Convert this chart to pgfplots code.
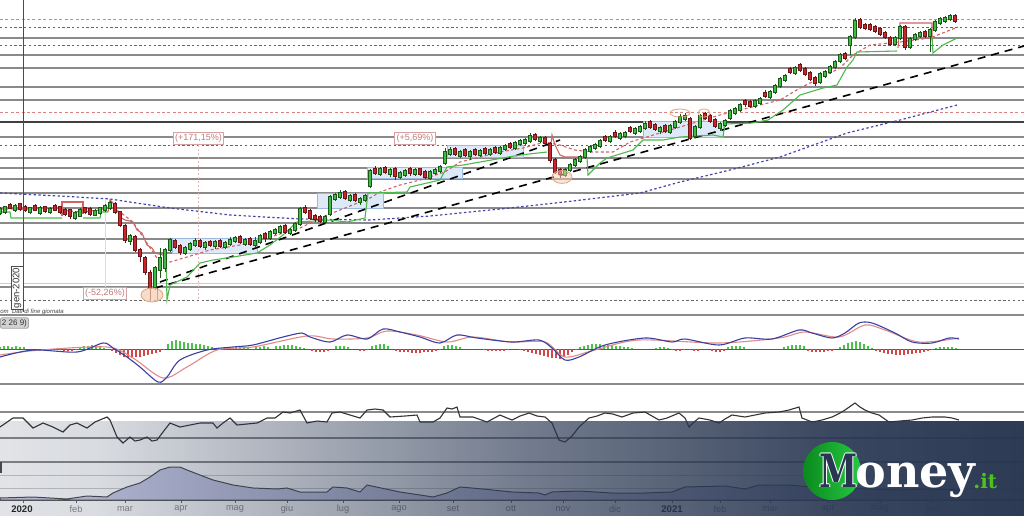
\documentclass[border=0pt]{standalone}
\usepackage{fontspec}
\setmainfont{Liberation Sans}
\newfontfamily\logofont{DejaVu Serif}
\usepackage{pgfplots}
\pgfplotsset{compat=1.18}
\usepackage{pgfplotstable}
\usetikzlibrary{fadings}

\definecolor{gridgray}{HTML}{8A8A8A}
\definecolor{cgreen}{HTML}{3DBE3D}
\definecolor{cred}{HTML}{C8262C}
\definecolor{stepgreen}{HTML}{4DB84D}
\definecolor{stepred}{HTML}{D06464}
\definecolor{mablue}{HTML}{4545A8}
\definecolor{boxblue}{HTML}{DDE9F8}
\definecolor{boxedge}{HTML}{9DB9DE}
\definecolor{navy}{HTML}{283651}
\definecolor{logoA}{HTML}{0A8A1E}
\definecolor{logoB}{HTML}{27C842}
\definecolor{itgreen}{HTML}{4EC21C}
\definecolor{labgray}{HTML}{8A8A8A}
\definecolor{volfill}{HTML}{C9CBE7}
\definecolor{macdblue}{HTML}{3A3FA0}
\definecolor{macdsig}{HTML}{E08A8A}
\definecolor{histg}{HTML}{4CC24C}
\definecolor{histr}{HTML}{D24848}
\definecolor{annot}{HTML}{C27A7A}
\definecolor{ellfill}{HTML}{F3CDB4}
\definecolor{elledge}{HTML}{E2A27C}

\pgfplotsset{
  panel/.style={width=512pt, height=258pt, scale only axis, xmin=0, xmax=1024,
    axis lines=none},
  candle/.style={draw=none, no markers, restrict expr to domain={\thisrow{d}}{#1}},
}
\tikzset{
  hlevel/.style={draw=gridgray, line width=0.6pt},
  dotlevel/.style={draw=gray!80!black, line width=0.5pt, dash pattern=on 1.2pt off 1.2pt},
  redlevel/.style={draw=stepred!80, line width=0.5pt, dash pattern=on 1.5pt off 1.2pt},
  mlab/.style={font=\fontsize{4.6}{5}\selectfont, text=labgray},
  logoM/.style={font=\logofont\bfseries\fontsize{23}{23}\selectfont, xscale=0.75, anchor=base, inner sep=0pt},
}

% candles in chart pixels (smaller = higher price):
% x, close c, d = open - close (d > 0: rising candle), upper wick u, lower wick v
\pgfplotstableread{
x c d u v
0 209 4 2 2
5 207 5 1 2
10 208 -3 2 1
15 206 4 2 2
20 209 -5 1 2
25 210 -3 2 2
30 208 4 1 2
35 210 -4 2 1
40 208 5 2 2
45 211 -4 1 2
50 209 3 2 2
55 210 -4 2 1
60 212 -5 1 2
65 214 -4 2 2
70 216 -6 1 3
75 213 5 2 2
80 210 6 2 1
85 212 -4 1 2
90 214 -5 2 2
95 211 4 2 1
100 208 5 1 2
105 206 4 2 2
110 203 5 2 2
115 212 -8 2 2
120 225 -13 1 2
125 240 -14 2 3
130 236 5 2 4
135 250 -13 2 2
140 256 -6 2 6
145 272 -14 2 3
150 288 -15 3 12
155 268 19 2 3
160 258 12 10 8
165 250 18 2 4
170 240 10 2 2
175 247 -6 2 2
180 252 -6 2 3
185 248 5 2 2
190 244 5 2 2
195 241 4 3 2
200 246 -5 2 2
205 243 4 2 3
210 245 -3 2 2
215 242 4 2 3
220 246 -5 2 2
225 243 4 2 2
230 240 4 3 2
235 238 3 2 2
240 242 -5 2 2
245 240 4 2 2
250 244 -5 2 2
255 241 4 4 2
260 236 6 2 2
265 238 -4 2 4
270 232 6 2 2
275 230 3 2 2
280 227 5 2 2
285 232 -6 2 2
290 230 3 2 2
295 224 6 2 2
300 209 15 2 2
305 212 -4 3 2
310 218 -7 2 2
315 219 -3 2 3
320 221 -4 2 2
325 217 5 2 2
330 197 17 2 2
335 195 4 2 2
340 193 4 3 2
345 198 -6 2 2
350 196 4 2 2
355 200 -5 2 2
360 199 3 2 3
365 196 4 2 2
370 171 15 2 2
375 173 -4 3 2
380 169 5 2 2
385 172 -4 2 2
390 170 4 2 3
395 176 -7 2 4
400 173 4 2 2
405 171 4 2 2
410 173 -4 2 3
415 170 4 2 2
420 174 -5 1 2
425 177 -5 2 2
430 172 6 2 2
435 170 3 2 2
440 167 4 2 2
445 152 11 4 2
450 150 4 3 2
455 154 -5 2 2
460 152 4 2 2
465 155 -5 2 2
470 152 4 2 4
475 154 -4 2 2
480 151 4 2 2
485 153 -4 2 2
490 150 4 2 2
495 152 -4 2 2
500 148 5 2 2
505 146 3 2 2
510 147 -3 2 2
515 143 5 2 2
520 141 3 2 2
525 140 3 2 2
530 136 5 3 2
535 139 -4 2 2
540 138 3 2 2
545 143 -5 2 2
550 160 -16 2 3
555 172 -12 2 2
560 174 -4 2 4
565 170 5 2 2
570 165 5 2 2
575 160 5 2 2
580 157 4 2 2
585 150 7 2 2
590 147 4 2 2
595 145 3 2 2
600 141 5 2 2
605 140 -3 2 2
610 137 4 2 2
615 136 -3 3 2
620 134 4 2 2
625 133 3 2 2
630 131 -3 2 2
635 129 4 2 2
640 127 4 2 2
645 124 4 3 2
650 127 -5 2 2
655 129 -4 2 2
660 128 3 2 3
665 131 -5 2 2
670 126 6 2 2
675 122 5 2 2
680 117 5 3 2
685 116 3 3 2
690 138 -19 2 2
695 127 9 2 2
700 116 11 2 2
705 118 -4 2 2
710 121 -5 2 2
715 126 -6 2 2
720 124 4 2 3
725 121 4 2 2
730 111 7 2 2
735 109 4 2 2
740 105 5 2 2
745 104 -3 2 3
750 106 -4 2 2
755 101 5 2 2
760 99 4 2 2
765 96 -3 3 2
770 92 5 2 2
775 86 6 2 2
780 79 7 2 2
785 76 4 2 2
790 72 -3 2 2
795 68 5 2 2
800 70 -5 2 2
805 74 -5 2 2
810 79 -6 2 2
815 83 -5 2 3
820 74 8 2 2
825 72 4 2 2
830 67 5 2 2
835 62 5 2 2
840 55 6 2 2
845 58 -4 2 2
850 37 8 2 10
855 21 16 3 2
860 27 -7 2 2
865 28 -3 2 2
870 29 -4 2 2
875 31 -4 2 2
880 34 -5 2 2
885 37 -4 2 2
890 44 -6 2 2
895 38 6 2 2
900 27 11 2 2
905 47 -20 2 3
910 39 8 2 2
915 35 4 2 2
920 33 3 2 2
925 36 -4 2 2
930 30 6 2 16
935 22 8 2 2
940 19 4 2 2
945 18 3 2 2
950 16 3 2 2
955 21 -5 2 2
}\candles

\begin{document}%
\begin{tikzfadingfrompicture}[name=wmfade]%
  \shade[left color=transparent!100, right color=transparent!99] (-50bp,-50bp) rectangle (-40bp,50bp);%
  \shade[left color=transparent!99, right color=transparent!82] (-40bp,-50bp) rectangle (-20bp,50bp);%
  \shade[left color=transparent!82, right color=transparent!36] (-20bp,-50bp) rectangle (0bp,50bp);%
  \shade[left color=transparent!36, right color=transparent!8] (0bp,-50bp) rectangle (16bp,50bp);%
  \shade[left color=transparent!8, right color=transparent!0] (16bp,-50bp) rectangle (28bp,50bp);%
  \fill[transparent!0] (28bp,-50bp) rectangle (50bp,50bp);%
\end{tikzfadingfrompicture}%
\begin{tikzpicture}
% ---------- main panel, oscillator, axis labels ----------
\begin{axis}[panel, ymin=0, ymax=516, y dir=reverse]
\pgfplotsinvokeforeach{38,55,68,87,100,137,158,168,179,193,208,223,239,253,287,315,384,412,438,462}{
  \draw[hlevel] (0,#1) -- (1024,#1);}
\pgfplotsinvokeforeach{27,45,145,300}{\draw[dotlevel] (0,#1) -- (1024,#1);}
\pgfplotsinvokeforeach{19,112}{\draw[redlevel] (0,#1) -- (1024,#1);}
\draw[gray!40, line width=0.4pt] (0,283) -- (1024,283);
\draw[gray!40, line width=0.4pt] (0,475) -- (1024,475);
\draw[gray!40, line width=0.4pt] (0,488) -- (1024,488);
\draw[black!75, line width=1.1pt] (0,122) -- (1024,122);
\draw[gray!70!black, line width=0.5pt] (0,349) -- (1024,349);
\draw[gray!80!black, line width=0.6pt] (0,500) -- (1024,500);

% consolidation boxes
\filldraw[fill=boxblue, draw=boxedge, line width=0.4pt] (172,238) rectangle (257,253);
\filldraw[fill=boxblue, draw=boxedge, line width=0.4pt] (317,193) rectangle (383,208);
\filldraw[fill=boxblue, draw=boxedge, line width=0.4pt] (367,167) rectangle (462,178);
\filldraw[fill=boxblue, draw=boxedge, line width=0.4pt] (447,145) rectangle (523,157);
\filldraw[fill=boxblue, draw=boxedge, line width=0.4pt] (643,121) rectangle (723,137);

% measurement guides
\draw[stepred!30, line width=0.4pt] (105,200) -- (105,293);
\draw[stepred!45, line width=0.4pt, dash pattern=on 1pt off 1pt] (198,145) -- (198,300);
\draw[black!70, line width=0.4pt] (157,288) -- (157,301);

% long moving average
\addplot[mablue, line width=0.6pt, dash pattern=on 1.2pt off 1.2pt] coordinates {
(0,193)(60,196)(110,199)(170,208)(230,215)(300,219)(370,220)(430,216)(510,208)
(573,201)(640,193)(680,182)(730,170)(780,157)(847,133)(900,120)(957,105)};

% trend lines
\addplot[black, line width=0.8pt, dash pattern=on 4pt off 3pt] coordinates {(155,288) (1024,46)};
\addplot[black, line width=0.8pt, dash pattern=on 4pt off 3pt] coordinates {(160,282) (560,140)};

% short moving average
\addplot[stepred, line width=0.55pt, dash pattern=on 1.5pt off 1.2pt] coordinates {
(0,209)(30,209)(60,210)(80,212)(100,210)(110,207)(120,212)(133,222)(145,240)(157,258)
(170,262)(187,257)(210,250)(240,245)(270,237)(300,228)(320,218)(340,210)(370,198)
(380,192)(400,185)(420,180)(445,172)(460,162)(500,152)(523,148)(545,142)(560,145)
(575,150)(590,152)(613,152)(630,142)(680,127)(720,115)(760,105)(780,100)(800,88)
(820,78)(840,68)(853,55)(870,45)(900,42)(930,38)(958,27)};

% trailing stops
\addplot[stepred, line width=0.55pt] coordinates {(62,216)(62,202)(83,202)(83,214)};
\addplot[stepred, line width=0.55pt] coordinates {(108,212)(110,200)(113,203)(115,207)(118,212)
(120,217)(125,220)(130,221)(133,222)(137,230)(142,233)(147,245)(152,248)(155,253)(163,255)(166,255)};
\addplot[stepred, line width=0.55pt] coordinates {(548,150)(550,153)(552,135)(555,145)(560,155)(565,157)(587,157)};
\addplot[stepred, line width=0.55pt] coordinates {(898,48)(900,23)(932,23)(932,40)};
\addplot[stepgreen, line width=0.55pt] coordinates {(0,212)(10,212)(11,218)(62,218)};
\addplot[stepgreen, line width=0.55pt] coordinates {(83,218)(100,218)(101,212)(108,212)};
\addplot[stepgreen, line width=0.55pt] coordinates {(166,255)(167,300)(170,285)(187,277)(200,263)
(213,260)(233,257)(257,253)(270,245)(283,235)(297,222)(330,220)(347,222)(365,218)(368,193)
(407,192)(410,187)(440,180)(447,167)(463,165)(520,155)(547,152)};
\addplot[stepgreen, line width=0.55pt] coordinates {(587,157)(588,175)(600,163)(607,158)(633,150)
(638,145)(643,140)(663,140)(680,137)(713,135)(723,137)(725,124)(752,123)(768,120)(783,110)
(800,95)(823,88)(837,85)(847,67)(853,60)(857,52)(897,51)};
\addplot[stepgreen, line width=0.55pt] coordinates {(932,37)(933,53)(943,45)(957,38)};

% candles: wicks, body outlines, bodies
\addplot[candle={0.5:1000}, error bars/.cd, y dir=plus, y explicit, error mark=none,
  error bar style={line width=0.45pt, draw=cgreen!45!black}]
  table[x=x, y expr={\thisrow{c}+min(0,\thisrow{d})-\thisrow{u}},
    y error expr={abs(\thisrow{d})+\thisrow{u}+\thisrow{v}}] {\candles};
\addplot[candle={-1000:0.49}, error bars/.cd, y dir=plus, y explicit, error mark=none,
  error bar style={line width=0.45pt, draw=cred!55!black}]
  table[x=x, y expr={\thisrow{c}+min(0,\thisrow{d})-\thisrow{u}},
    y error expr={abs(\thisrow{d})+\thisrow{u}+\thisrow{v}}] {\candles};
\addplot[candle={0.5:1000}, error bars/.cd, y dir=plus, y explicit, error mark=none,
  error bar style={line width=2.1pt, draw=cgreen!45!black}]
  table[x=x, y expr={\thisrow{c}+min(0,\thisrow{d})-0.6}, y error expr={abs(\thisrow{d})+1.2}] {\candles};
\addplot[candle={-1000:0.49}, error bars/.cd, y dir=plus, y explicit, error mark=none,
  error bar style={line width=2.1pt, draw=cred!55!black}]
  table[x=x, y expr={\thisrow{c}+min(0,\thisrow{d})-0.6}, y error expr={abs(\thisrow{d})+1.2}] {\candles};
\addplot[candle={0.5:1000}, error bars/.cd, y dir=plus, y explicit, error mark=none,
  error bar style={line width=1.4pt, draw=cgreen}]
  table[x=x, y expr={\thisrow{c}+min(0,\thisrow{d})}, y error expr={abs(\thisrow{d})}] {\candles};
\addplot[candle={-1000:0.49}, error bars/.cd, y dir=plus, y explicit, error mark=none,
  error bar style={line width=1.4pt, draw=cred}]
  table[x=x, y expr={\thisrow{c}+min(0,\thisrow{d})}, y error expr={abs(\thisrow{d})}] {\candles};

% highlighted turning points
\filldraw[fill=ellfill, fill opacity=0.7, draw=elledge, line width=0.4pt] (152,295) ellipse [x radius=5.5pt, y radius=3.5pt];
\filldraw[fill=ellfill, fill opacity=0.5, draw=elledge, line width=0.4pt] (562,177) ellipse [x radius=5pt, y radius=3.2pt];
\draw[elledge, line width=0.4pt] (680,113) ellipse [x radius=5pt, y radius=2pt];
\draw[elledge, line width=0.4pt] (704,113) ellipse [x radius=3pt, y radius=2pt];

% percentage labels
\node[draw=annot!70, fill=white, text=annot, font=\fontsize{4.5}{5}\selectfont, inner sep=1pt] at (105,293.5) {(-52,26\%)};
\node[draw=annot!70, fill=white, text=annot, font=\fontsize{4.5}{5}\selectfont, inner sep=1pt] at (198.5,138.5) {(+171,15\%)};
\node[draw=annot!70, fill=white, text=annot, font=\fontsize{4.5}{5}\selectfont, inner sep=1pt] at (415,138.5) {(+5,69\%)};

% cursor and info texts
\draw[black!70, line width=0.5pt] (23,0) -- (23,312);
\node[draw=black!70, fill=white, rotate=90, font=\fontsize{4.8}{5}\selectfont, inner sep=0.8pt, text=black!80] at (17,288) {gen-2020};
\node[anchor=west, font=\fontsize{3}{3.5}\selectfont\itshape, text=black!75, inner sep=0pt] at (0,312) {om\ \ Dati di fine giornata};
\node[anchor=west, fill=gray!35, draw=gray!70, rounded corners=1pt, font=\fontsize{4}{4.5}\selectfont, inner sep=0.8pt, text=black!80] at (0,323) {2 26 9)};
\draw[black!70, line width=0.6pt] (1,462) -- (1,473);

% oscillator
\addplot[black!80, line width=0.55pt] coordinates {
(0,427)(13,418)(23,418)(33,428)(43,423)(53,427)(63,432)(70,425)(77,423)(87,428)(95,422)
(107,417)(110,420)(117,437)(123,443)(130,437)(135,441)(140,440)(147,437)(152,441)(157,440)
(163,432)(170,423)(175,425)(180,427)(190,425)(200,423)(213,423)(217,428)(223,423)(230,418)
(237,425)(247,424)(257,423)(267,418)(275,418)(283,412)(290,413)(300,410)(307,423)(317,421)
(327,422)(332,413)(340,412)(350,415)(360,418)(367,410)(375,409)(383,410)(390,417)(405,416)
(417,415)(420,422)(433,422)(440,418)(447,408)(452,409)(457,407)(460,417)(473,417)(487,422)
(500,415)(507,418)(512,420)(520,416)(529,413)(537,416)(545,417)(552,423)(559,440)(565,442)
(572,436)(579,427)(589,418)(597,416)(605,413)(613,414)(622,417)(633,413)(645,412)(652,416)
(659,420)(667,418)(679,413)(685,418)(689,427)(694,422)(699,418)(710,420)(719,423)(725,419)
(732,415)(745,417)(755,415)(765,413)(779,412)(789,410)(799,407)(802,418)(812,422)(822,420)
(832,417)(840,413)(845,410)(855,403)(860,407)(865,410)(872,413)(879,415)(889,422)(900,421)
(912,420)(922,418)(932,417)(945,417)(952,418)(959,420)};

% time axis
\pgfplotsinvokeforeach{23,76,125,181,235,287,343,399,453,511,563,615,672,720,770,828,880,932}{
  \draw[gray!80!black, line width=0.4pt] (#1,500) -- (#1,503);}
\node[font=\fontsize{4.8}{5}\selectfont\bfseries, text=black!85] at (22,509) {2020};
\node[mlab] at (76,509) {feb};
\node[mlab] at (125,509) {mar};
\node[mlab] at (181,509) {apr};
\node[mlab] at (235,509) {mag};
\node[mlab] at (287,509) {giu};
\node[mlab] at (343,509) {lug};
\node[mlab] at (399,509) {ago};
\node[mlab] at (453,509) {set};
\node[mlab] at (511,509) {ott};
\node[mlab] at (563,509) {nov};
\node[mlab] at (615,509) {dic};
\node[font=\fontsize{4.8}{5}\selectfont\bfseries, text=black!85] at (672,509) {2021};
\node[mlab] at (720,509) {feb};
\node[mlab] at (770,509) {mar};
\node[mlab] at (828,509) {apr};
\node[mlab] at (880,509) {mag};
\node[mlab] at (932,509) {giu};
\end{axis}

% ---------- MACD (12 26 9) ----------
\begin{axis}[panel, ymin=-167, ymax=349]
\addplot[ycomb, histg, line width=0.9pt, mark=none] coordinates {
(0,2)(4,3)(8,3)(12,2)(16,3)(20,2)(24,2)
(80,2)(84,3)(88,3)(92,4)(96,3)(100,2)(104,1)
(168,5)(172,8)(176,9)(180,8)(184,7)(188,6)(192,6)(196,5)(200,5)(204,4)(208,3)(212,2)
(232,1)(236,2)(240,2)(244,2)(248,1)(256,2)(260,2)(264,3)(268,2)(276,3)(280,3)(284,4)(288,4)(292,4)(296,3)(300,2)(304,1)
(336,3)(340,3)(344,3)(348,2)
(372,3)(376,4)(380,5)(384,5)(388,3)
(444,3)(448,4)(452,4)(456,3)(460,2)
(580,2)(584,3)(588,4)(592,5)(596,5)(600,5)(604,4)(608,4)(612,4)(616,3)(620,3)(624,2)(628,2)(632,1)
(656,1)(660,2)(664,2)(668,1)
(728,2)(732,3)(736,3)(740,3)(744,2)
(784,2)(788,3)(792,4)(796,4)(800,4)(804,3)
(840,2)(844,4)(848,6)(852,7)(856,8)(860,7)(864,5)(868,3)(872,1)
(936,1)(940,2)(944,2)(948,2)(952,2)(956,1)};
\addplot[ycomb, histr, line width=0.9pt, mark=none] coordinates {
(60,-1)(64,-2)(68,-2)(72,-2)(76,-1)
(112,-2)(116,-4)(120,-6)(124,-8)(128,-9)(132,-9)(136,-8)(140,-8)(144,-7)(148,-6)(152,-5)(156,-4)(160,-3)(164,-1)
(312,-2)(316,-3)(320,-3)(324,-3)(328,-2)
(360,-2)(364,-2)(368,-1)
(396,-2)(400,-3)(404,-3)(408,-3)(412,-4)(416,-4)(420,-4)(424,-3)(428,-3)(432,-3)(436,-2)(440,-1)
(484,-1)(488,-2)(492,-2)(496,-2)(500,-2)(504,-2)(508,-1)
(520,-1)(524,-2)(528,-3)(532,-4)(536,-5)(540,-6)(544,-7)(548,-8)(552,-9)(556,-9)(560,-10)(564,-8)(568,-6)(572,-3)(576,-1)
(672,-1)(676,-2)(680,-2)(684,-1)
(690,-1)(694,-2)(698,-2)
(712,-2)(716,-3)(720,-3)(724,-2)
(808,-2)(812,-3)(816,-3)(820,-3)(824,-3)(828,-2)(832,-2)
(876,-2)(880,-3)(884,-4)(888,-5)(892,-5)(896,-6)(900,-6)(904,-6)(908,-5)(912,-5)(916,-4)(920,-4)(924,-3)(928,-2)(932,-1)};
\addplot[macdsig, line width=0.55pt, smooth] coordinates {
(0,-6)(40,-1)(107,2)(133,-9)(163,-29)(187,-18)(217,-1)(253,2)(307,13)(333,10)(367,11)
(387,18)(417,14)(447,7)(473,12)(510,7)(545,7)(565,-8)(595,-1)(639,9)(719,6)(779,11)
(805,17)(839,12)(865,24)(885,19)(919,7)(959,11)};
\addplot[macdblue, line width=0.55pt, smooth] coordinates {
(0,-8)(33,-1)(77,-3)(103,6)(113,1)(127,-8)(140,-18)(158,-33)(167,-28)(180,-11)(207,-1)
(233,2)(253,4)(283,12)(302,16)(310,12)(330,7)(347,14)(367,10)(383,20)(400,17)(420,12)
(440,6)(457,14)(477,11)(512,7)(539,9)(552,1)(565,-11)(579,-8)(605,4)(645,11)(672,7)
(685,10)(719,4)(745,11)(772,10)(799,19)(812,16)(832,11)(845,16)(859,26)(872,26)(895,16)
(912,7)(932,6)(949,11)(959,10)};
\end{axis}

% ---------- lower indicator area ----------
\begin{axis}[panel, ymin=-16, ymax=500]
\addplot[draw=black!70, fill=volfill, line width=0.5pt] coordinates {
(0,2)(33,3)(67,1)(87,4)(107,3)(113,7)(127,13)(140,17)(150,23)(160,30)(170,33)(180,33)
(187,30)(200,25)(213,20)(233,15)(253,12)(277,11)(287,12)(300,8)(327,8)(333,13)(347,12)
(360,8)(367,15)(400,8)(420,5)(433,3)(447,7)(460,13)(483,11)(512,8)(539,7)(545,5)(552,8)
(579,9)(612,7)(645,7)(672,8)(685,13)(725,14)(745,11)(759,15)(789,15)(812,13)(840,12)
(870,11)(900,10)(930,11)(959,10)} \closedcycle;
\end{axis}

% ---------- watermark ----------
\begin{axis}[panel, ymin=0, ymax=516, y dir=reverse]
\fill[navy, path fading=wmfade, fit fading=true] (0,421) rectangle (1024,516);
\shade[left color=logoA, right color=logoB] (832,471) circle[radius=14.5pt];
\node[logoM, text=white, xshift=-0.4pt] at (838.5,487) {M};
\node[logoM, text=white, xshift=0.4pt] at (838.5,487) {M};
\node[logoM, text=white, yshift=0.4pt] at (838.5,487) {M};
\node[logoM, text=white, yshift=-0.4pt] at (838.5,487) {M};
\node[logoM, text=navy] at (838.5,487) {M};
\node[font=\logofont\bfseries\fontsize{23}{23}\selectfont, text=white, anchor=base west, inner sep=0pt] at (855,487) {oney};
\node[font=\logofont\bfseries\fontsize{10}{10}\selectfont, text=itgreen, anchor=base west, inner sep=0pt] at (973,488) {.it};
\end{axis}
\pgfresetboundingbox
\path (0,0) rectangle (512pt,258pt);
\end{tikzpicture}%
\end{document}
